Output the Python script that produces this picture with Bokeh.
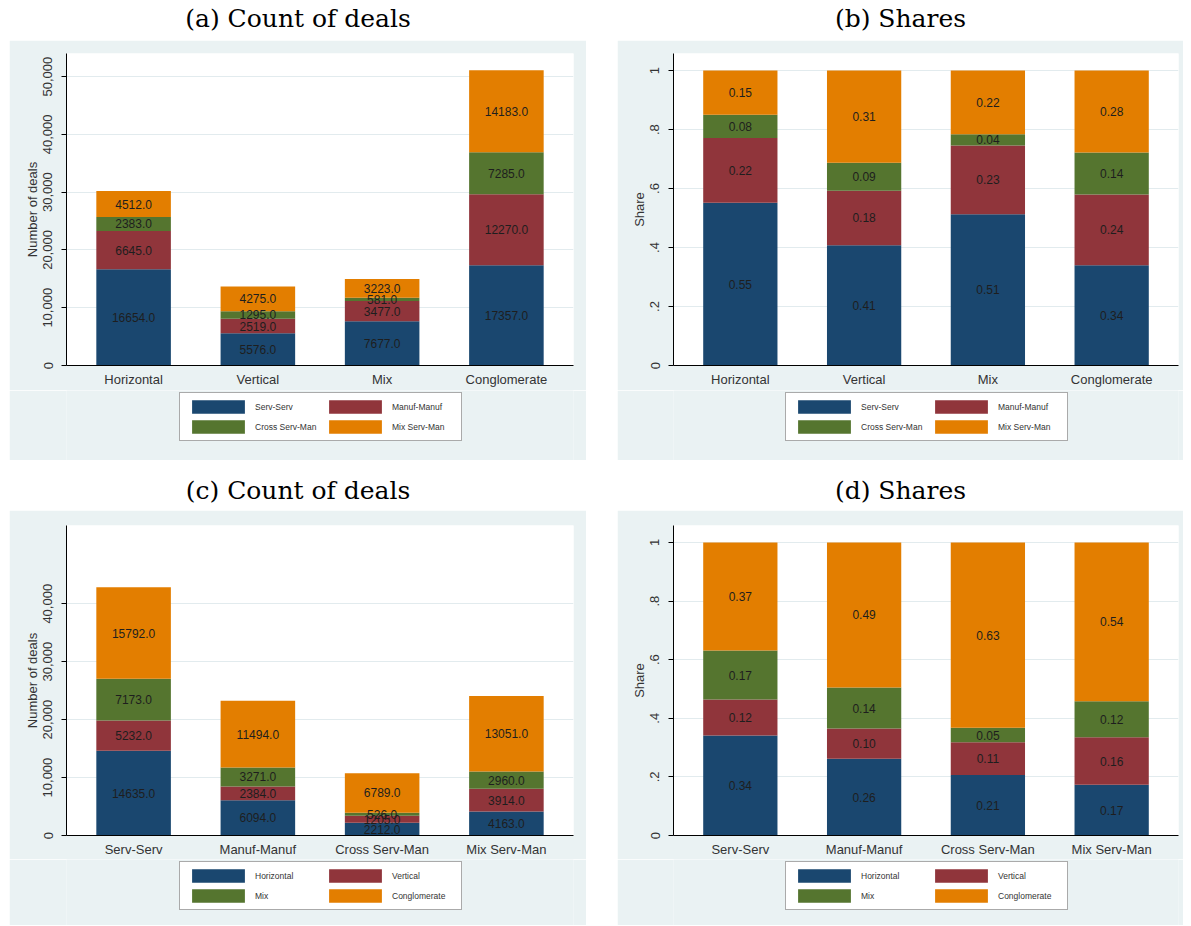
from bokeh.plotting import figure
from bokeh.models import (ColumnDataSource, FactorRange, Range1d, FixedTicker,
                          NumeralTickFormatter, CustomJSTickFormatter, Legend,
                          LegendItem, Spacer)
from bokeh.layouts import column, row
from bokeh.core.properties import value
from bokeh.embed import file_html
from bokeh.resources import INLINE

# Categories
deal_types = ["Horizontal", "Vertical", "Mix", "Conglomerate"]
sector_pairs = ["Serv-Serv", "Manuf-Manuf", "Cross Serv-Man", "Mix Serv-Man"]

# Number of deals by deal type, one list per sector pair (order follows deal_types)
serv_serv = [16654, 5576, 7677, 17357]
manuf_manuf = [6645, 2519, 3477, 12270]
cross_serv_man = [2383, 1295, 581, 7285]
mix_serv_man = [4512, 4275, 3223, 14183]

# Number of deals by sector pair, one list per deal type (order follows sector_pairs)
horizontal = [14635, 6094, 2212, 4163]
vertical = [5232, 2384, 1205, 3914]
mix = [7173, 3271, 526, 2960]
conglomerate = [15792, 11494, 6789, 13051]

count_ticks = [0, 10000, 20000, 30000, 40000, 50000]
count_ticks_lower = [0, 10000, 20000, 30000, 40000]
share_ticks = [0, 0.2, 0.4, 0.6, 0.8, 1]

SERIES_COLORS = ["#1A476F", "#90353B", "#55752F", "#E37E00"]
PANEL_BG = "#EAF2F3"
SANS = "Liberation Sans"
SERIF = "DejaVu Serif"

# legend box geometry
LEG_PAD = 5
LEG_GLYPH_W = 66
LEG_GLYPH_H = 17
LEG_STANDOFF = 4
LEG_LABEL_W = 64
LEG_SPACING = 3
LEGEND_W = 2 * LEG_PAD + 2 * (LEG_GLYPH_W + LEG_STANDOFF + LEG_LABEL_W) + LEG_SPACING
LEGEND_H = 2 * LEG_PAD + 2 * LEG_GLYPH_H + LEG_SPACING


def stacked_plot(cats, series, as_share, width, height, left, right,
                 top, bottom, y_end, ticks, ylabel):
    totals = [sum(col) for col in zip(*series)]
    p = figure(x_range=FactorRange(factors=cats, range_padding=0.04,
                                   range_padding_units="absolute"),
               y_range=Range1d(0, y_end), width=width, height=height,
               output_backend="svg", toolbar_location=None,
               min_border_left=left, min_border_right=right,
               min_border_top=top, min_border_bottom=bottom,
               background_fill_color="white", border_fill_color=PANEL_BG,
               outline_line_color=None)

    base = [0.0] * len(cats)
    sources = []
    for vals, color in zip(series, SERIES_COLORS):
        if as_share:
            heights = [v / t for v, t in zip(vals, totals)]
            labels = [f"{h:.2f}" for h in heights]
        else:
            heights = [float(v) for v in vals]
            labels = [f"{h:.1f}" for h in heights]
        tops = [b + h for b, h in zip(base, heights)]
        src = ColumnDataSource(dict(cat=cats, bottom=base, top=tops,
                                    mid=[(b + t) / 2 for b, t in zip(base, tops)],
                                    label=labels))
        p.vbar(x="cat", bottom="bottom", top="top", width=0.6, source=src,
               fill_color=color, line_color=None)
        sources.append(src)
        base = tops

    # value labels on top of every segment
    for src in sources:
        p.text(x="cat", y="mid", text="label", source=src,
               text_font=value(SANS), text_font_size="12px",
               text_align="center", text_baseline="middle", text_color="#1E1E1E")

    # axes
    p.yaxis.ticker = FixedTicker(ticks=ticks)
    if as_share:
        p.yaxis.formatter = CustomJSTickFormatter(code="""
            if (tick == 0) return '0';
            if (tick == 1) return '1';
            return tick.toFixed(1).replace(/^0/, '');
        """)
    else:
        p.yaxis.formatter = NumeralTickFormatter(format="0,0")
    p.yaxis.major_label_orientation = "vertical"
    p.yaxis.major_label_text_font = SANS
    p.yaxis.major_label_text_font_size = "13px"
    p.yaxis.major_label_text_color = "#333333"
    p.yaxis.major_label_standoff = 9
    p.yaxis.major_tick_out = 5
    p.yaxis.major_tick_in = 0
    p.yaxis.minor_tick_line_color = None
    p.yaxis.axis_line_color = "black"
    p.yaxis.major_tick_line_color = "black"
    p.yaxis.axis_label = ylabel
    p.yaxis.axis_label_text_font = SANS
    p.yaxis.axis_label_text_font_size = "13px"
    p.yaxis.axis_label_text_font_style = "normal"
    p.yaxis.axis_label_text_color = "#333333"
    p.yaxis.axis_label_standoff = 1

    p.xaxis.major_tick_line_color = None
    p.xaxis.major_tick_out = 0
    p.xaxis.major_tick_in = 0
    p.xaxis.minor_tick_line_color = None
    p.xaxis.major_label_standoff = 6
    p.xaxis.major_label_text_font = SANS
    p.xaxis.major_label_text_font_size = "13px"
    p.xaxis.major_label_text_color = "#333333"
    p.xaxis.axis_line_color = "black"

    p.xgrid.grid_line_color = None
    p.ygrid.grid_line_color = "#E2EBEE"
    p.ygrid.grid_line_width = 1
    return p


def legend_strip(names, series, width, height, legend_left, top_gap):
    """Grey strip under a plot that carries its boxed two-column legend."""
    lg = figure(width=width, height=height, x_range=Range1d(0, 1),
                y_range=Range1d(0, 1), output_backend="svg",
                toolbar_location=None, x_axis_location=None, y_axis_location=None,
                min_border=0, outline_line_color=None,
                background_fill_color=PANEL_BG, background_fill_alpha=1.0,
                border_fill_color=PANEL_BG)
    lg.grid.visible = False
    items = []
    for name, vals, color in zip(names, series, SERIES_COLORS):
        # hidden proxy bars: only their swatches show up in the legend
        r = lg.vbar(x=list(range(len(vals))), top=vals, width=0.6,
                    fill_color=color, line_color=None, visible=False)
        items.append(LegendItem(label=name, renderers=[r]))
    leg = Legend(items=items, orientation="horizontal", ncols=2,
                 location=(legend_left, height - top_gap - LEGEND_H),
                 glyph_width=LEG_GLYPH_W, glyph_height=LEG_GLYPH_H,
                 label_standoff=LEG_STANDOFF, label_width=LEG_LABEL_W,
                 spacing=LEG_SPACING, padding=LEG_PAD, margin=0,
                 label_text_font=SANS, label_text_font_size="8.5px",
                 label_text_color="#333333", border_line_color="#555555",
                 border_line_width=1, background_fill_color="white",
                 background_fill_alpha=1.0, inactive_fill_alpha=0.0)
    lg.add_layout(leg)
    return lg


def title_bar(text, width, height, y):
    t = figure(width=width, height=height, x_range=Range1d(0, 1),
               y_range=Range1d(0, height), output_backend="svg",
               toolbar_location=None, x_axis_location=None, y_axis_location=None,
               min_border=0, outline_line_color=None,
               border_fill_color="white", background_fill_color="white")
    t.grid.visible = False
    t.text(x=[0.5], y=[y], text=[text], text_font=value(SERIF),
           text_font_size="25px", text_align="center", text_baseline="middle",
           text_color="black")
    return t


def panel(cats, names, series, as_share, width, left, right, top, plot_h,
          frame_h, strip_h, y_end, ticks, ylabel):
    bottom = plot_h - top - frame_h
    p = stacked_plot(cats, series, as_share, width, plot_h, left, right, top,
                     bottom, y_end, ticks, ylabel)
    frame_w = width - left - right
    # the strip's frame lines up with the plot frame above it
    lg = legend_strip(names, series, width, strip_h, (frame_w - LEGEND_W) / 2, 4)
    return column(p, lg)


# (a) counts by deal type, split by sector pair
panel_a = panel(deal_types, sector_pairs,
                [serv_serv, manuf_manuf, cross_serv_man, mix_serv_man],
                False, 577, 57, 13, 13, 350, 312, 70, 54000, count_ticks,
                "Number of deals")
# (b) shares by deal type
panel_b = panel(deal_types, sector_pairs,
                [serv_serv, manuf_manuf, cross_serv_man, mix_serv_man],
                True, 566, 56, 5, 13, 350, 312, 70, 1.058, share_ticks, "Share")
# (c) counts by sector pair, split by deal type
panel_c = panel(sector_pairs, deal_types,
                [horizontal, vertical, mix, conglomerate],
                False, 577, 57, 13, 15, 349, 310, 66, 53500, count_ticks_lower,
                "Number of deals")
# (d) shares by sector pair
panel_d = panel(sector_pairs, deal_types,
                [horizontal, vertical, mix, conglomerate],
                True, 566, 56, 5, 15, 349, 310, 66, 1.058, share_ticks, "Share")

t_a = title_bar("(a) Count of deals", 577, 40, 22)
t_b = title_bar("(b) Shares", 566, 40, 22)
t_c = title_bar("(c) Count of deals", 577, 50, 20)
t_d = title_bar("(d) Shares", 566, 50, 20)

layout = column(
    row(Spacer(width=9, height=40), t_a, Spacer(width=31, height=40), t_b),
    row(Spacer(width=9, height=420), panel_a, Spacer(width=31, height=420), panel_b),
    row(Spacer(width=9, height=50), t_c, Spacer(width=31, height=50), t_d),
    row(Spacer(width=9, height=415), panel_c, Spacer(width=31, height=415), panel_d),
)

open("out.html", "w").write(file_html(layout, INLINE, title="Deals by type and sector pair"))
